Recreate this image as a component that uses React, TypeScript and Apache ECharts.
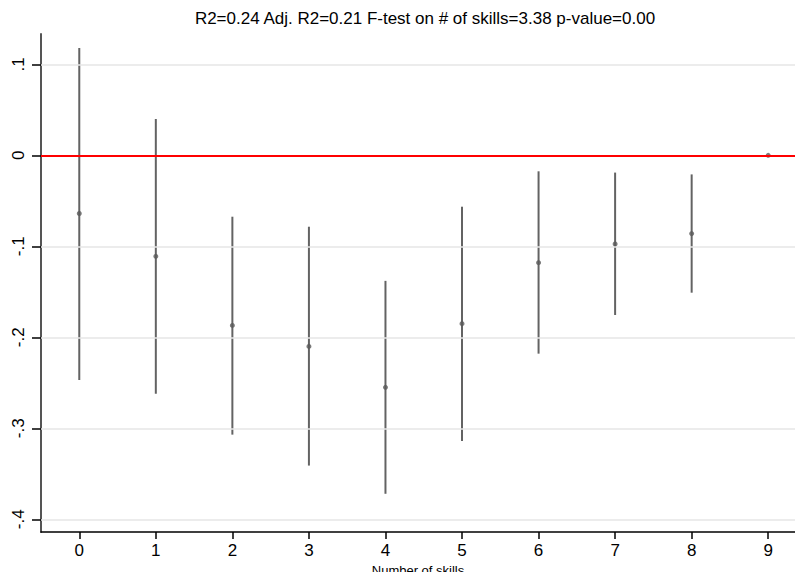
import React, { useEffect, useRef } from "react";
import * as echarts from "echarts";

const skills = [0, 1, 2, 3, 4, 5, 6, 7, 8, 9];
const coef = [-0.064, -0.111, -0.187, -0.21, -0.255, -0.185, -0.118, -0.0975, -0.086, 0];
const ciLow = [-0.247, -0.262, -0.307, -0.341, -0.372, -0.314, -0.218, -0.1755, -0.151, 0];
const ciHigh = [0.118, 0.04, -0.0675, -0.0785, -0.138, -0.0565, -0.0176, -0.019, -0.021, 0];
const yTicks = [0.1, 0, -0.1, -0.2, -0.3, -0.4];
const gridTicks = [0.1, -0.1, -0.2, -0.3, -0.4];
const titleText = "R2=0.24 Adj. R2=0.21 F-test on # of skills=3.38 p-value=0.00";
const xName = "Number of skills";

const fmtY = (v: number) => {
  if (Math.abs(v) < 1e-9) return "0";
  const s = String(Math.round(Math.abs(v) * 10) / 10).replace(/^0/, "");
  return (v < 0 ? "-" : "") + s;
};

export default function App() {
  const ref = useRef<HTMLDivElement>(null);
  useEffect(() => {
    if (!ref.current) return;
    const chart = echarts.init(ref.current, undefined, { renderer: "svg" });
    const font = "'Liberation Sans', Arial, sans-serif";
    chart.setOption({
      animation: false,
      backgroundColor: "#ffffff",
      title: {
        text: titleText,
        left: 425,
        top: 10,
        padding: 0,
        textAlign: "center",
        textStyle: { fontFamily: font, fontSize: 17, fontWeight: "normal", color: "#000" },
      },
      grid: { left: 41, right: 0, top: 34, bottom: 40, containLabel: false, outerBoundsMode: "none" },
      xAxis: {
        type: "value",
        min: -0.5,
        max: 9.35,
        name: xName,
        nameLocation: "middle",
        nameGap: 31,
        nameTextStyle: { fontFamily: font, fontSize: 13, color: "#000" },
        axisLine: { show: true, onZero: false, lineStyle: { color: "#000", width: 1.5 } },
        axisTick: { show: true, length: 7, customValues: skills, lineStyle: { color: "#000", width: 1.5 } },
        axisLabel: {
          customValues: skills,
          margin: 10,
          fontFamily: font,
          fontSize: 17,
          color: "#000",
          formatter: (v: number) => String(v),
        },
        splitLine: { show: false },
      },
      yAxis: {
        type: "value",
        min: -0.414,
        max: 0.1333,
        axisLine: { show: true, onZero: false, lineStyle: { color: "#555", width: 2 } },
        axisTick: { show: true, length: 9, customValues: yTicks, lineStyle: { color: "#000", width: 1.5 } },
        axisLabel: {
          customValues: yTicks,
          rotate: 90,
          margin: 14,
          fontFamily: font,
          fontSize: 17,
          color: "#000",
          formatter: (v: number) => fmtY(v),
        },
        splitLine: { show: false },
      },
      series: [
        {
          type: "line",
          data: [],
          silent: true,
          z: 1,
          markLine: {
            silent: true,
            symbol: "none",
            label: { show: false },
            lineStyle: { color: "#e6e6e6", width: 1.5, type: "solid" },
            data: gridTicks.map((v) => ({ yAxis: v })),
          },
        },
        {
          type: "line",
          data: [],
          silent: true,
          z: 2,
          markLine: {
            silent: true,
            symbol: "none",
            label: { show: false },
            lineStyle: { color: "#ff0000", width: 2, type: "solid" },
            data: [{ yAxis: 0 }],
          },
        },
        {
          type: "custom",
          z: 3,
          data: skills.map((s, i) => [s, ciLow[i], ciHigh[i]]),
          renderItem: (params: any, api: any) => {
            const x = api.value(0);
            const lo = api.value(1);
            const hi = api.value(2);
            if (lo === hi) return null;
            const p1 = api.coord([x, lo]);
            const p2 = api.coord([x, hi]);
            return {
              type: "line",
              shape: { x1: p1[0], y1: p1[1], x2: p2[0], y2: p2[1] },
              style: { stroke: "#636363", lineWidth: 2 },
            };
          },
        },
        {
          type: "scatter",
          z: 4,
          symbol: "circle",
          symbolSize: 5,
          itemStyle: { color: "#5a5a5a" },
          data: skills.map((s, i) => [s, coef[i]]),
        },
      ],
    });
    return () => chart.dispose();
  }, []);
  return (
    <div
      ref={ref}
      style={{ position: "fixed", left: 0, top: 0, width: 795, height: 572, background: "#fff" }}
    />
  );
}
